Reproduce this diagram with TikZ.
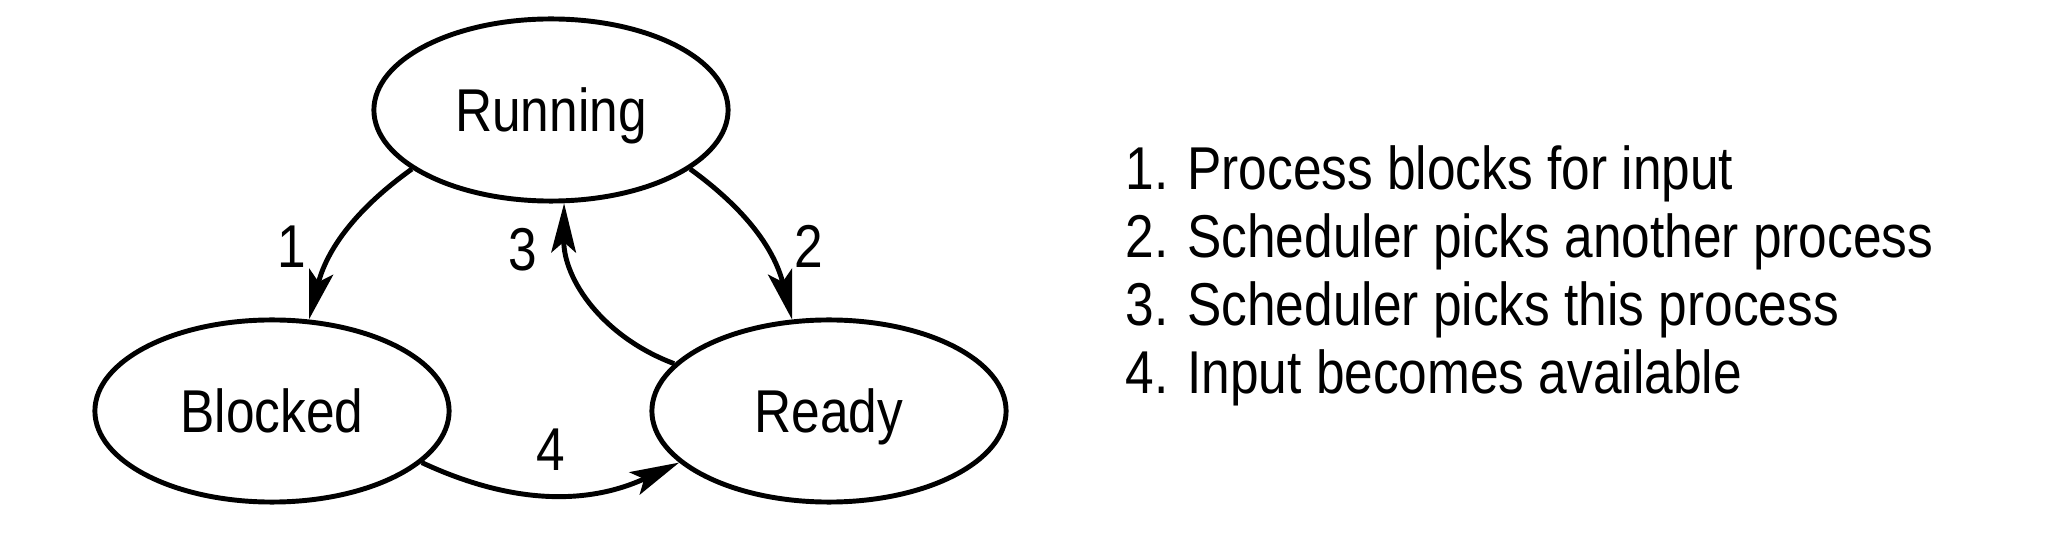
\documentclass[tikz,border=0pt]{standalone}
\usepackage{fontspec}
\setmainfont{Liberation Sans}[FakeStretch=0.85]
\usepackage{tikz}
\usetikzlibrary{shapes,arrows.meta}

\begin{document}
\begin{tikzpicture}[x=0.01cm, y=0.01cm, line width=1.4pt, >={Stealth[length=14pt,width=7pt,inset=3pt]}, state/.style={ellipse, draw, minimum width=3.54cm, minimum height=1.82cm, inner sep=0pt, font=\fontsize{17.2pt}{20pt}\selectfont, text height=0.43cm, text depth=0pt}, num/.style={inner sep=0pt, font=\fontsize{17.2pt}{20pt}\selectfont, text height=0.43cm, text depth=0pt}, legendtxt/.style={anchor=base west, inner sep=0pt, font=\fontsize{17.2pt}{20pt}\selectfont}]
\useasboundingbox (0,0) rectangle (2050,536);
\node[state] (run) at (551,426) {Running};
\node[state] (blk) at (272,125) {Blocked};
\node[state] (rdy) at (829,125) {Ready};
\node[num] (n1) at (292,290) {1};
\node[num] (n2) at (809,290) {2};
\node[num] (n3) at (523,287) {3};
\node[num] (n4) at (551,87) {4};
\path[->]
(run.203) edge[bend right=20] (blk.68)
(run.337) edge[bend left=20] (rdy.112)
(rdy.163) edge[bend left=35] (run.278)
(blk.341) edge[bend right=25] (rdy.199);
\node[legendtxt] (l1) at (1123,346) {1. Process blocks for input};
\node[legendtxt] (l2) at (1123,278) {2. Scheduler picks another process};
\node[legendtxt] (l3) at (1123,210) {3. Scheduler picks this process};
\node[legendtxt] (l4) at (1123,142) {4. Input becomes available};
\end{tikzpicture}
\end{document}
